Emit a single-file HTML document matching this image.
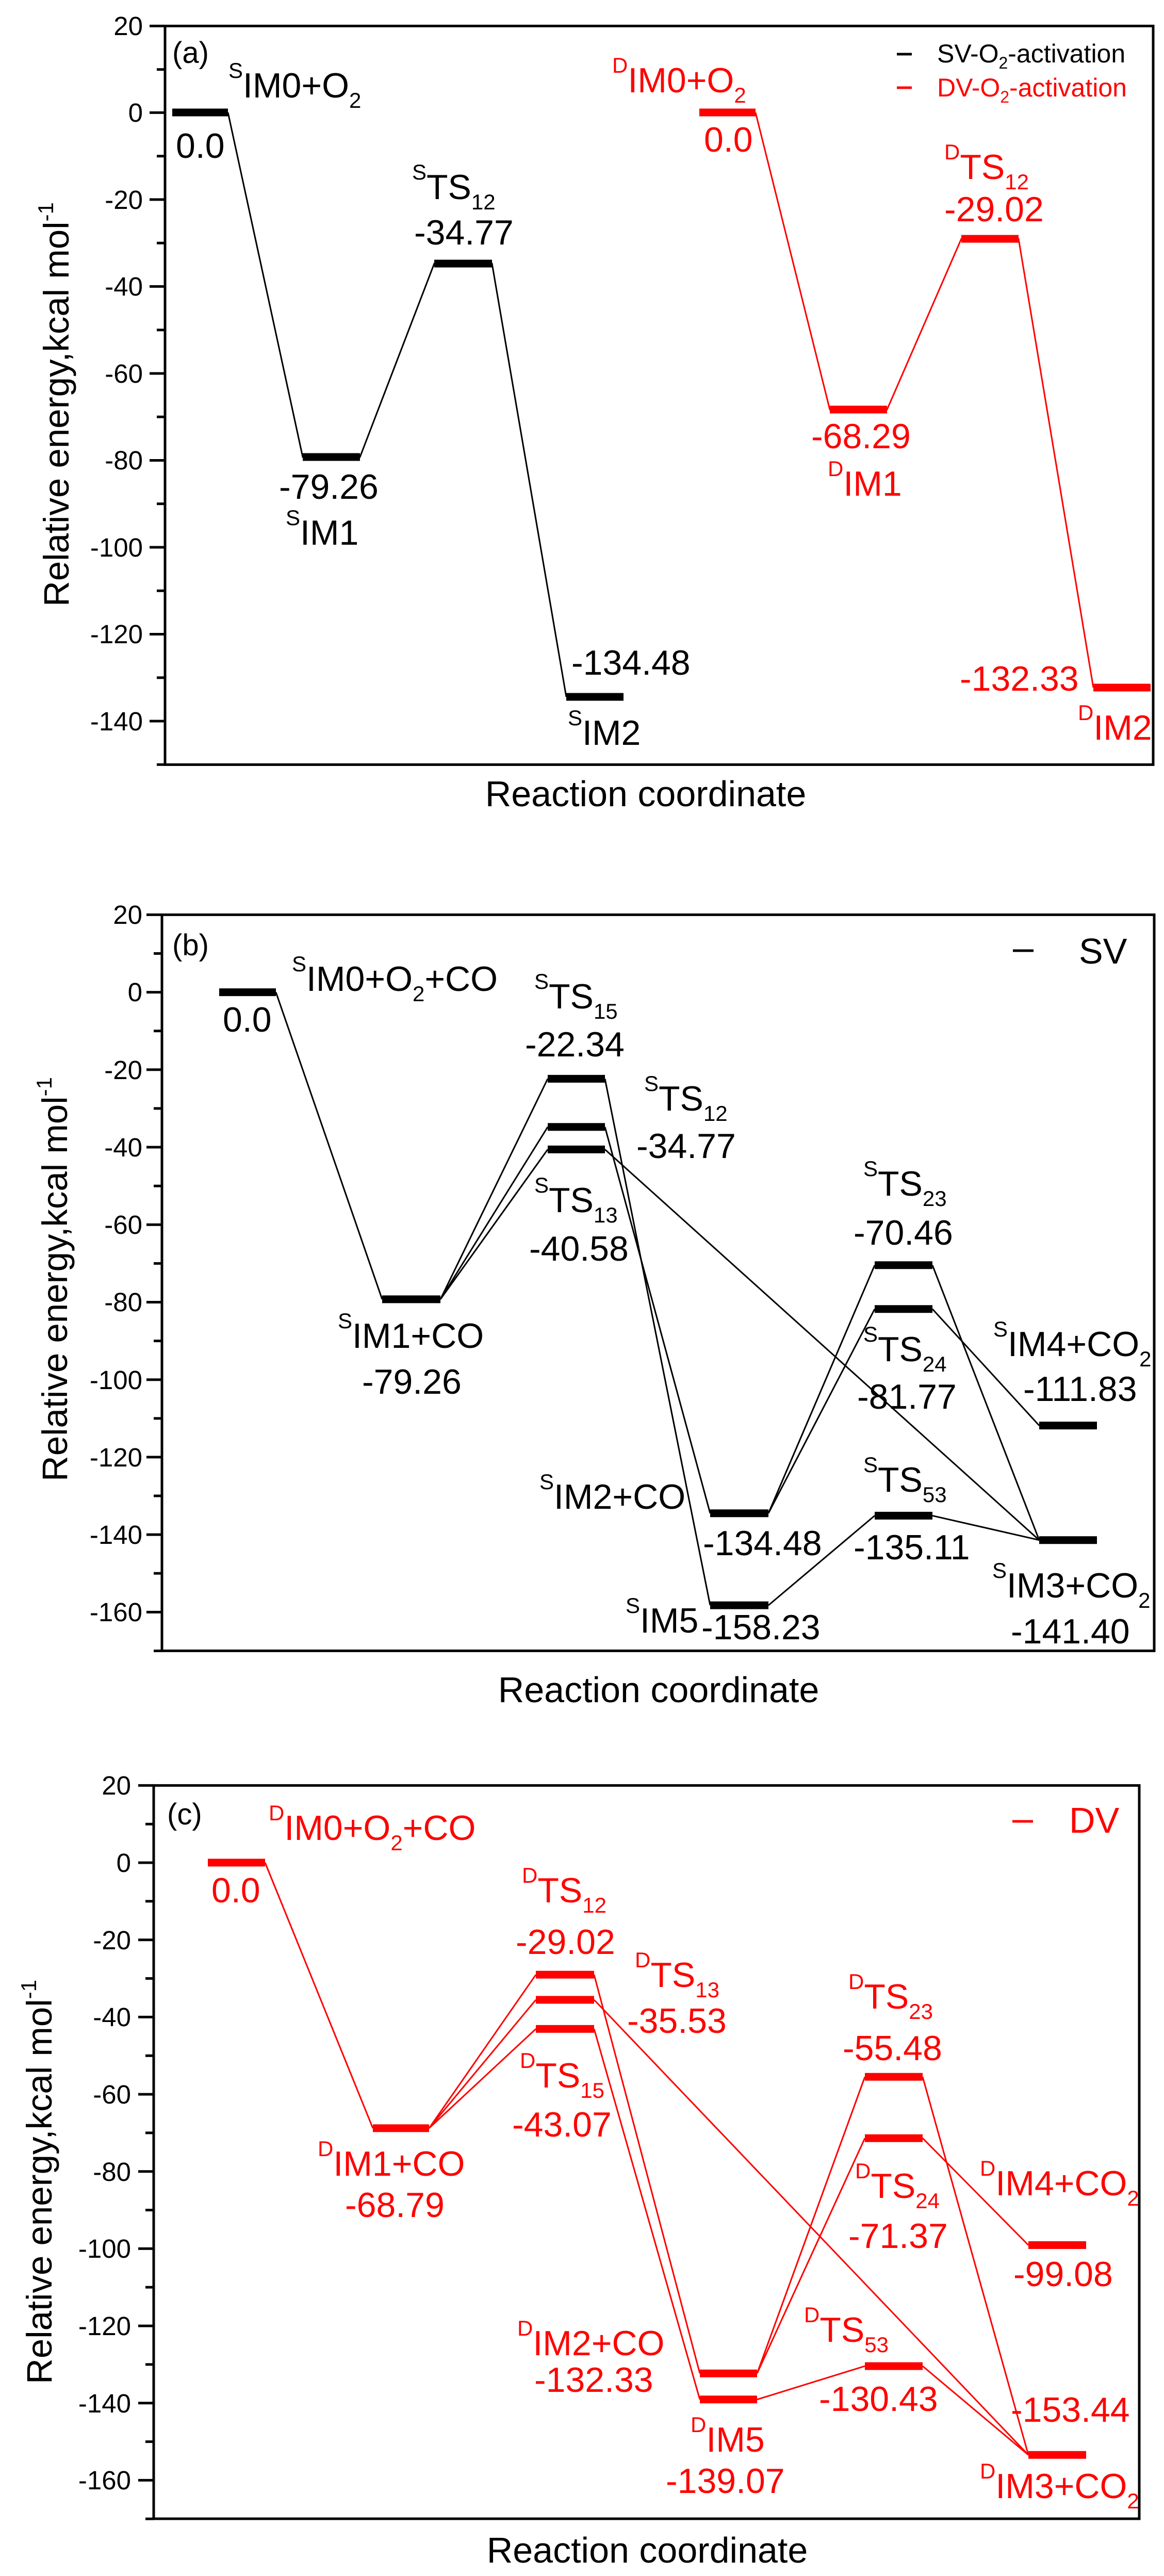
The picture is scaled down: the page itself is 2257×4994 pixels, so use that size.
<!DOCTYPE html>
<html><head><meta charset="utf-8"><style>
html,body{margin:0;padding:0;background:#fff}
svg{display:block}
text{font-family:"Liberation Sans",Arial,sans-serif}
</style></head><body>
<svg width="2257" height="4994" viewBox="0 0 2257 4994" xmlns="http://www.w3.org/2000/svg">
<rect width="2257" height="4994" fill="#fff"/>

<!-- ================= PANEL A ================= -->
<g>
<rect x="320" y="50.4" width="1916" height="1432" fill="none" stroke="#000" stroke-width="5"/>
<g stroke="#000" stroke-width="5">
<line x1="290" y1="50.4" x2="320" y2="50.4"/><line x1="304" y1="134.7" x2="320" y2="134.7"/>
<line x1="290" y1="218.4" x2="320" y2="218.4"/><line x1="304" y1="302.7" x2="320" y2="302.7"/>
<line x1="290" y1="386.9" x2="320" y2="386.9"/><line x1="304" y1="471.2" x2="320" y2="471.2"/>
<line x1="290" y1="555.4" x2="320" y2="555.4"/><line x1="304" y1="639.7" x2="320" y2="639.7"/>
<line x1="290" y1="724" x2="320" y2="724"/><line x1="304" y1="808.2" x2="320" y2="808.2"/>
<line x1="290" y1="892.5" x2="320" y2="892.5"/><line x1="304" y1="976.7" x2="320" y2="976.7"/>
<line x1="290" y1="1061" x2="320" y2="1061"/><line x1="304" y1="1145.3" x2="320" y2="1145.3"/>
<line x1="290" y1="1229.5" x2="320" y2="1229.5"/><line x1="304" y1="1313.8" x2="320" y2="1313.8"/>
<line x1="290" y1="1398" x2="320" y2="1398"/><line x1="304" y1="1482.3" x2="320" y2="1482.3"/>
</g>
<g font-size="51" text-anchor="end">
<text x="277" y="68">20</text><text x="277" y="236">0</text><text x="277" y="405">-20</text>
<text x="277" y="573">-40</text><text x="277" y="742">-60</text><text x="277" y="910">-80</text>
<text x="277" y="1079">-100</text><text x="277" y="1247">-120</text><text x="277" y="1416">-140</text>
</g>
<text font-size="69" text-anchor="middle" transform="translate(133,784) rotate(-90)">Relative energy,kcal mol<tspan font-size="42" dy="-30">-1</tspan></text>
<text x="1252" y="1563" font-size="70" text-anchor="middle">Reaction coordinate</text>
<!-- black path -->
<g stroke="#000" stroke-width="3" fill="none">
<polyline points="442,218 587,886 698,886 842,511 954,511 1098,1351"/>
</g>
<g stroke="#000" stroke-width="15">
<line x1="334" y1="218" x2="442" y2="218"/><line x1="587" y1="886" x2="698" y2="886"/>
<line x1="842" y1="511" x2="954" y2="511"/><line x1="1098" y1="1351" x2="1209" y2="1351"/>
</g>
<g stroke="#f00" stroke-width="3" fill="none">
<polyline points="1465,218 1609,794 1720,794 1864,463 1975,463 2120,1333"/>
</g>
<g stroke="#f00" stroke-width="15">
<line x1="1356" y1="218" x2="1465" y2="218"/><line x1="1609" y1="794" x2="1720" y2="794"/>
<line x1="1864" y1="463" x2="1975" y2="463"/><line x1="2120" y1="1333" x2="2231" y2="1333"/>
</g>
<g font-size="68">
<text x="334" y="122" font-size="58">(a)</text>
<text x="443" y="189"><tspan font-size="42" dy="-38">S</tspan><tspan dy="38">IM0+O</tspan><tspan font-size="42" dy="20">2</tspan></text>
<text x="341" y="306">0.0</text>
<text x="799" y="386"><tspan font-size="42" dy="-38">S</tspan><tspan dy="38">TS</tspan><tspan font-size="42" dy="20">12</tspan></text>
<text x="803" y="474">-34.77</text>
<text x="541" y="967">-79.26</text>
<text x="554" y="1056"><tspan font-size="42" dy="-38">S</tspan><tspan dy="38">IM1</tspan></text>
<text x="1108" y="1308">-134.48</text>
<text x="1101" y="1444"><tspan font-size="42" dy="-38">S</tspan><tspan dy="38">IM2</tspan></text>
<g fill="#f00">
<text x="1187" y="179"><tspan font-size="42" dy="-38">D</tspan><tspan dy="38">IM0+O</tspan><tspan font-size="42" dy="20">2</tspan></text>
<text x="1365" y="294">0.0</text>
<text x="1831" y="347"><tspan font-size="42" dy="-38">D</tspan><tspan dy="38">TS</tspan><tspan font-size="42" dy="20">12</tspan></text>
<text x="1831" y="429">-29.02</text>
<text x="1573" y="869">-68.29</text>
<text x="1605" y="961"><tspan font-size="42" dy="-38">D</tspan><tspan dy="38">IM1</tspan></text>
<text x="1861" y="1339">-132.33</text>
<text x="2090" y="1434"><tspan font-size="42" dy="-38">D</tspan><tspan dy="38">IM2</tspan></text>
</g>
</g>
<line x1="1739" y1="105" x2="1768" y2="105" stroke="#000" stroke-width="5"/>
<text x="1817" y="121" font-size="50">SV-O<tspan font-size="32" dy="12">2</tspan><tspan dy="-12">-activation</tspan></text>
<line x1="1739" y1="170" x2="1768" y2="170" stroke="#f00" stroke-width="5"/>
<text x="1817" y="187" font-size="50" fill="#f00">DV-O<tspan font-size="32" dy="12">2</tspan><tspan dy="-12">-activation</tspan></text>
</g>

<!-- ================= PANEL B ================= -->
<g>
<rect x="314" y="1773.4" width="1924" height="1427" fill="none" stroke="#000" stroke-width="5"/>
<g stroke="#000" stroke-width="5">
<line x1="284" y1="1773.4" x2="314" y2="1773.4"/><line x1="298" y1="1848.5" x2="314" y2="1848.5"/>
<line x1="284" y1="1923.6" x2="314" y2="1923.6"/><line x1="298" y1="1998.7" x2="314" y2="1998.7"/>
<line x1="284" y1="2073.8" x2="314" y2="2073.8"/><line x1="298" y1="2148.9" x2="314" y2="2148.9"/>
<line x1="284" y1="2224" x2="314" y2="2224"/><line x1="298" y1="2299.2" x2="314" y2="2299.2"/>
<line x1="284" y1="2374.3" x2="314" y2="2374.3"/><line x1="298" y1="2449.4" x2="314" y2="2449.4"/>
<line x1="284" y1="2524.5" x2="314" y2="2524.5"/><line x1="298" y1="2599.6" x2="314" y2="2599.6"/>
<line x1="284" y1="2674.7" x2="314" y2="2674.7"/><line x1="298" y1="2749.8" x2="314" y2="2749.8"/>
<line x1="284" y1="2824.9" x2="314" y2="2824.9"/><line x1="298" y1="2900" x2="314" y2="2900"/>
<line x1="284" y1="2975.1" x2="314" y2="2975.1"/><line x1="298" y1="3050.2" x2="314" y2="3050.2"/>
<line x1="284" y1="3125.4" x2="314" y2="3125.4"/><line x1="298" y1="3200.5" x2="314" y2="3200.5"/>
</g>
<g font-size="51" text-anchor="end">
<text x="276" y="1791">20</text><text x="276" y="1941">0</text><text x="276" y="2092">-20</text>
<text x="276" y="2242">-40</text><text x="276" y="2392">-60</text><text x="276" y="2542">-80</text>
<text x="276" y="2693">-100</text><text x="276" y="2843">-120</text><text x="276" y="2993">-140</text>
<text x="276" y="3143">-160</text>
</g>
<text font-size="69" text-anchor="middle" transform="translate(130,2480) rotate(-90)">Relative energy,kcal mol<tspan font-size="42" dy="-30">-1</tspan></text>
<text x="1277" y="3300" font-size="70" text-anchor="middle">Reaction coordinate</text>
<g stroke="#000" stroke-width="3" fill="none">
<line x1="535" y1="1923.6" x2="741" y2="2518.9"/>
<line x1="854" y1="2518.9" x2="1062" y2="2091.4"/>
<line x1="854" y1="2518.9" x2="1062" y2="2184.8"/>
<line x1="854" y1="2518.9" x2="1062" y2="2228.4"/>
<line x1="1173" y1="2091.4" x2="1377" y2="3112.1"/>
<line x1="1173" y1="2184.8" x2="1377" y2="2933.7"/>
<line x1="1173" y1="2228.4" x2="2015" y2="2985.7"/>
<line x1="1490" y1="2933.7" x2="1696" y2="2452.8"/>
<line x1="1490" y1="2933.7" x2="1696" y2="2537.8"/>
<line x1="1490" y1="3112.1" x2="1696" y2="2938.4"/>
<line x1="1808" y1="2452.8" x2="2015" y2="2985.7"/>
<line x1="1808" y1="2537.8" x2="2015" y2="2763.6"/>
<line x1="1808" y1="2938.4" x2="2015" y2="2985.7"/>
</g>
<g stroke="#000" stroke-width="15">
<line x1="425" y1="1923.6" x2="535" y2="1923.6"/>
<line x1="741" y1="2518.9" x2="854" y2="2518.9"/>
<line x1="1062" y1="2091.4" x2="1173" y2="2091.4"/>
<line x1="1062" y1="2184.8" x2="1173" y2="2184.8"/>
<line x1="1062" y1="2228.4" x2="1173" y2="2228.4"/>
<line x1="1377" y1="2933.7" x2="1490" y2="2933.7"/>
<line x1="1377" y1="3112.1" x2="1490" y2="3112.1"/>
<line x1="1696" y1="2452.8" x2="1808" y2="2452.8"/>
<line x1="1696" y1="2537.8" x2="1808" y2="2537.8"/>
<line x1="1696" y1="2938.4" x2="1808" y2="2938.4"/>
<line x1="2015" y1="2763.6" x2="2127" y2="2763.6"/>
<line x1="2015" y1="2985.7" x2="2127" y2="2985.7"/>
</g>
<g font-size="68">
<text x="334" y="1852" font-size="58">(b)</text>
<text x="566" y="1921"><tspan font-size="42" dy="-38">S</tspan><tspan dy="38">IM0+O</tspan><tspan font-size="42" dy="20">2</tspan><tspan dy="-20">+CO</tspan></text>
<text x="432" y="2000">0.0</text>
<text x="1036" y="1955"><tspan font-size="42" dy="-38">S</tspan><tspan dy="38">TS</tspan><tspan font-size="42" dy="20">15</tspan></text>
<text x="1018" y="2048">-22.34</text>
<text x="1249" y="2153"><tspan font-size="42" dy="-38">S</tspan><tspan dy="38">TS</tspan><tspan font-size="42" dy="20">12</tspan></text>
<text x="1234" y="2245">-34.77</text>
<text x="1036" y="2350"><tspan font-size="42" dy="-38">S</tspan><tspan dy="38">TS</tspan><tspan font-size="42" dy="20">13</tspan></text>
<text x="1026" y="2444">-40.58</text>
<text x="655" y="2613"><tspan font-size="42" dy="-38">S</tspan><tspan dy="38">IM1+CO</tspan></text>
<text x="702" y="2702">-79.26</text>
<text x="1674" y="2318"><tspan font-size="42" dy="-38">S</tspan><tspan dy="38">TS</tspan><tspan font-size="42" dy="20">23</tspan></text>
<text x="1655" y="2413">-70.46</text>
<text x="1674" y="2639"><tspan font-size="42" dy="-38">S</tspan><tspan dy="38">TS</tspan><tspan font-size="42" dy="20">24</tspan></text>
<text x="1662" y="2731">-81.77</text>
<text x="1926" y="2629"><tspan font-size="42" dy="-38">S</tspan><tspan dy="38">IM4+CO</tspan><tspan font-size="42" dy="20">2</tspan></text>
<text x="1984" y="2716">-111.83</text>
<text x="1046" y="2925"><tspan font-size="42" dy="-38">S</tspan><tspan dy="38">IM2+CO</tspan></text>
<text x="1363" y="3015">-134.48</text>
<text x="1674" y="2892"><tspan font-size="42" dy="-38">S</tspan><tspan dy="38">TS</tspan><tspan font-size="42" dy="20">53</tspan></text>
<text x="1655" y="3023">-135.11</text>
<text x="1213" y="3165"><tspan font-size="42" dy="-38">S</tspan><tspan dy="38">IM5</tspan></text>
<text x="1360" y="3178">-158.23</text>
<text x="1924" y="3097"><tspan font-size="42" dy="-38">S</tspan><tspan dy="38">IM3+CO</tspan><tspan font-size="42" dy="20">2</tspan></text>
<text x="1960" y="3186">-141.40</text>
</g>
<line x1="1964" y1="1843" x2="2004" y2="1843" stroke="#000" stroke-width="5"/>
<text x="2092" y="1868" font-size="70">SV</text>
</g>

<!-- ================= PANEL C ================= -->
<g>
<rect x="298" y="3461.4" width="1911" height="1421.6" fill="none" stroke="#000" stroke-width="5"/>
<g stroke="#000" stroke-width="5">
<line x1="268" y1="3461.4" x2="298" y2="3461.4"/><line x1="282" y1="3536.3" x2="298" y2="3536.3"/>
<line x1="268" y1="3611.1" x2="298" y2="3611.1"/><line x1="282" y1="3685.9" x2="298" y2="3685.9"/>
<line x1="268" y1="3760.8" x2="298" y2="3760.8"/><line x1="282" y1="3835.6" x2="298" y2="3835.6"/>
<line x1="268" y1="3910.4" x2="298" y2="3910.4"/><line x1="282" y1="3985.3" x2="298" y2="3985.3"/>
<line x1="268" y1="4060.1" x2="298" y2="4060.1"/><line x1="282" y1="4134.9" x2="298" y2="4134.9"/>
<line x1="268" y1="4209.7" x2="298" y2="4209.7"/><line x1="282" y1="4284.6" x2="298" y2="4284.6"/>
<line x1="268" y1="4359.4" x2="298" y2="4359.4"/><line x1="282" y1="4434.2" x2="298" y2="4434.2"/>
<line x1="268" y1="4509.1" x2="298" y2="4509.1"/><line x1="282" y1="4583.9" x2="298" y2="4583.9"/>
<line x1="268" y1="4658.7" x2="298" y2="4658.7"/><line x1="282" y1="4733.6" x2="298" y2="4733.6"/>
<line x1="268" y1="4808.4" x2="298" y2="4808.4"/><line x1="282" y1="4883.2" x2="298" y2="4883.2"/>
</g>
<g font-size="51" text-anchor="end">
<text x="254" y="3479">20</text><text x="254" y="3629">0</text><text x="254" y="3779">-20</text>
<text x="254" y="3928">-40</text><text x="254" y="4078">-60</text><text x="254" y="4228">-80</text>
<text x="254" y="4377">-100</text><text x="254" y="4527">-120</text><text x="254" y="4677">-140</text>
<text x="254" y="4826">-160</text>
</g>
<text font-size="69" text-anchor="middle" transform="translate(100,4230) rotate(-90)">Relative energy,kcal mol<tspan font-size="42" dy="-30">-1</tspan></text>
<text x="1255" y="4968" font-size="70" text-anchor="middle">Reaction coordinate</text>
<g stroke="#f00" stroke-width="3" fill="none">
<line x1="514" y1="3611" x2="723" y2="4125.9"/>
<line x1="832" y1="4125.9" x2="1039" y2="3828.3"/>
<line x1="832" y1="4125.9" x2="1039" y2="3877"/>
<line x1="832" y1="4125.9" x2="1039" y2="3933.4"/>
<line x1="1152" y1="3828.3" x2="1357" y2="4601.3"/>
<line x1="1152" y1="3933.4" x2="1357" y2="4651.8"/>
<line x1="1152" y1="3877" x2="1994" y2="4759.3"/>
<line x1="1468" y1="4601.3" x2="1677" y2="4026.3"/>
<line x1="1468" y1="4601.3" x2="1677" y2="4145.2"/>
<line x1="1468" y1="4651.8" x2="1677" y2="4587.1"/>
<line x1="1789" y1="4026.3" x2="1994" y2="4759.3"/>
<line x1="1789" y1="4145.2" x2="1994" y2="4352.5"/>
<line x1="1789" y1="4587.1" x2="1994" y2="4759.3"/>
</g>
<g stroke="#f00" stroke-width="15">
<line x1="403" y1="3611" x2="514" y2="3611"/>
<line x1="723" y1="4125.9" x2="832" y2="4125.9"/>
<line x1="1039" y1="3828.3" x2="1152" y2="3828.3"/>
<line x1="1039" y1="3877" x2="1152" y2="3877"/>
<line x1="1039" y1="3933.4" x2="1152" y2="3933.4"/>
<line x1="1357" y1="4601.3" x2="1468" y2="4601.3"/>
<line x1="1357" y1="4651.8" x2="1468" y2="4651.8"/>
<line x1="1677" y1="4026.3" x2="1789" y2="4026.3"/>
<line x1="1677" y1="4145.2" x2="1789" y2="4145.2"/>
<line x1="1677" y1="4587.1" x2="1789" y2="4587.1"/>
<line x1="1994" y1="4352.5" x2="2106" y2="4352.5"/>
<line x1="1994" y1="4759.3" x2="2106" y2="4759.3"/>
</g>
<text x="324" y="3537" font-size="58">(c)</text>
<g font-size="68" fill="#f00">
<text x="521" y="3567"><tspan font-size="42" dy="-38">D</tspan><tspan dy="38">IM0+O</tspan><tspan font-size="42" dy="20">2</tspan><tspan dy="-20">+CO</tspan></text>
<text x="410" y="3688">0.0</text>
<text x="1012" y="3688"><tspan font-size="42" dy="-38">D</tspan><tspan dy="38">TS</tspan><tspan font-size="42" dy="20">12</tspan></text>
<text x="1000" y="3788">-29.02</text>
<text x="1231" y="3852"><tspan font-size="42" dy="-38">D</tspan><tspan dy="38">TS</tspan><tspan font-size="42" dy="20">13</tspan></text>
<text x="1216" y="3941">-35.53</text>
<text x="1008" y="4047"><tspan font-size="42" dy="-38">D</tspan><tspan dy="38">TS</tspan><tspan font-size="42" dy="20">15</tspan></text>
<text x="993" y="4142">-43.07</text>
<text x="616" y="4218"><tspan font-size="42" dy="-38">D</tspan><tspan dy="38">IM1+CO</tspan></text>
<text x="669" y="4298">-68.79</text>
<text x="1645" y="3894"><tspan font-size="42" dy="-38">D</tspan><tspan dy="38">TS</tspan><tspan font-size="42" dy="20">23</tspan></text>
<text x="1634" y="3994">-55.48</text>
<text x="1658" y="4261"><tspan font-size="42" dy="-38">D</tspan><tspan dy="38">TS</tspan><tspan font-size="42" dy="20">24</tspan></text>
<text x="1645" y="4358">-71.37</text>
<text x="1900" y="4256"><tspan font-size="42" dy="-38">D</tspan><tspan dy="38">IM4+CO</tspan><tspan font-size="42" dy="20">2</tspan></text>
<text x="1965" y="4432">-99.08</text>
<text x="1003" y="4566"><tspan font-size="42" dy="-38">D</tspan><tspan dy="38">IM2+CO</tspan></text>
<text x="1036" y="4637">-132.33</text>
<text x="1559" y="4540"><tspan font-size="42" dy="-38">D</tspan><tspan dy="38">TS</tspan><tspan font-size="42" dy="20">53</tspan></text>
<text x="1588" y="4674">-130.43</text>
<text x="1339" y="4753"><tspan font-size="42" dy="-38">D</tspan><tspan dy="38">IM5</tspan></text>
<text x="1291" y="4833">-139.07</text>
<text x="1960" y="4695">-153.44</text>
<text x="1900" y="4843"><tspan font-size="42" dy="-38">D</tspan><tspan dy="38">IM3+CO</tspan><tspan font-size="42" dy="20">2</tspan></text>
</g>
<line x1="1963" y1="3531" x2="2003" y2="3531" stroke="#f00" stroke-width="5"/>
<text x="2073" y="3553" font-size="70" fill="#f00">DV</text>
</g>
</svg>
</body></html>
